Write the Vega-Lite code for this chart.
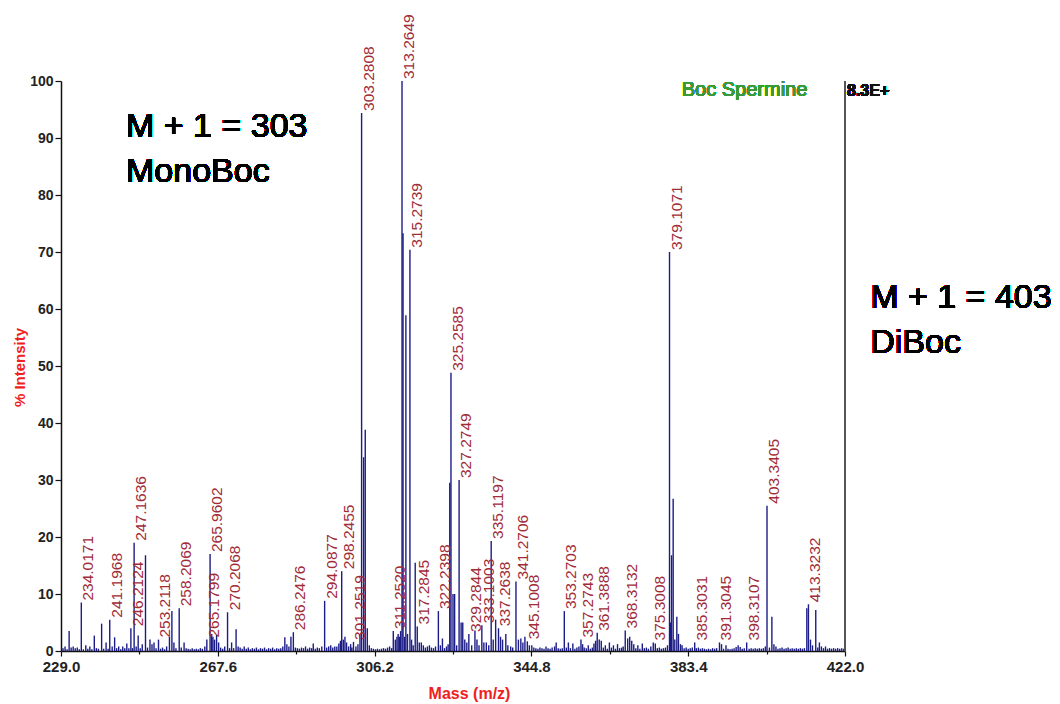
{
  "$schema": "https://vega.github.io/schema/vega-lite/v6.json",
  "width": 784,
  "height": 570,
  "autosize": {"type": "none"},
  "padding": {"left": 61, "top": 81, "right": 215, "bottom": 53},
  "background": "white",
  "config": {"view": {"stroke": null}, "font": "Liberation Sans"},
  "data": {"values": [
    {"mz": 229.5, "intensity": 0.5}, {"mz": 230.0, "intensity": 0.8}, {"mz": 230.5, "intensity": 0.3},
    {"mz": 231.0, "intensity": 3.5}, {"mz": 231.5, "intensity": 0.6}, {"mz": 232.0, "intensity": 0.8},
    {"mz": 232.5, "intensity": 0.5}, {"mz": 233.0, "intensity": 0.6}, {"mz": 233.5, "intensity": 0.3},
    {"mz": 234.0, "intensity": 8.5, "label": "234.0171"}, {"mz": 234.5, "intensity": 0.3},
    {"mz": 235.1, "intensity": 1.0}, {"mz": 235.6, "intensity": 0.4}, {"mz": 236.1, "intensity": 0.8},
    {"mz": 236.6, "intensity": 0.3}, {"mz": 237.2, "intensity": 2.7}, {"mz": 237.7, "intensity": 0.5},
    {"mz": 238.2, "intensity": 0.4}, {"mz": 239.0, "intensity": 4.8}, {"mz": 239.5, "intensity": 0.4},
    {"mz": 240.1, "intensity": 1.5}, {"mz": 240.6, "intensity": 0.4},
    {"mz": 241.0, "intensity": 5.5, "label": "241.1968"}, {"mz": 241.6, "intensity": 0.8},
    {"mz": 242.2, "intensity": 2.4}, {"mz": 242.7, "intensity": 0.5}, {"mz": 243.2, "intensity": 0.8},
    {"mz": 243.7, "intensity": 0.3}, {"mz": 244.2, "intensity": 0.8}, {"mz": 244.7, "intensity": 0.5},
    {"mz": 245.2, "intensity": 1.3}, {"mz": 245.7, "intensity": 0.5},
    {"mz": 246.2, "intensity": 4.0, "label": "246.2124"}, {"mz": 246.6, "intensity": 0.5},
    {"mz": 247.0, "intensity": 19.0, "label": "247.1636"}, {"mz": 247.5, "intensity": 0.8},
    {"mz": 248.0, "intensity": 2.7}, {"mz": 248.5, "intensity": 0.5}, {"mz": 249.0, "intensity": 1.2},
    {"mz": 249.8, "intensity": 16.8}, {"mz": 250.3, "intensity": 0.6}, {"mz": 250.9, "intensity": 2.0},
    {"mz": 251.4, "intensity": 1.2}, {"mz": 251.9, "intensity": 1.5}, {"mz": 252.4, "intensity": 0.5},
    {"mz": 253.0, "intensity": 2.0, "label": "253.2118"}, {"mz": 253.5, "intensity": 0.4},
    {"mz": 254.0, "intensity": 0.6}, {"mz": 254.5, "intensity": 0.3}, {"mz": 255.0, "intensity": 0.8},
    {"mz": 255.7, "intensity": 2.5}, {"mz": 256.3, "intensity": 7.0}, {"mz": 256.8, "intensity": 1.5},
    {"mz": 257.3, "intensity": 0.5}, {"mz": 258.1, "intensity": 7.5, "label": "258.2069"},
    {"mz": 258.6, "intensity": 0.6}, {"mz": 259.3, "intensity": 1.5}, {"mz": 259.8, "intensity": 0.5},
    {"mz": 260.3, "intensity": 0.4}, {"mz": 260.8, "intensity": 0.3}, {"mz": 261.3, "intensity": 0.5},
    {"mz": 261.8, "intensity": 0.3}, {"mz": 262.3, "intensity": 0.4}, {"mz": 262.8, "intensity": 0.3},
    {"mz": 263.3, "intensity": 0.5}, {"mz": 263.8, "intensity": 0.4}, {"mz": 264.4, "intensity": 0.8},
    {"mz": 264.9, "intensity": 2.0, "label": "265.1799"},
    {"mz": 265.7, "intensity": 17.0, "label": "265.9602"}, {"mz": 266.1, "intensity": 3.0},
    {"mz": 266.4, "intensity": 2.5}, {"mz": 266.8, "intensity": 2.0}, {"mz": 267.3, "intensity": 2.8},
    {"mz": 267.8, "intensity": 1.5}, {"mz": 268.3, "intensity": 0.6}, {"mz": 268.8, "intensity": 0.4},
    {"mz": 269.3, "intensity": 0.8}, {"mz": 270.0, "intensity": 6.8, "label": "270.2068"},
    {"mz": 270.5, "intensity": 0.5}, {"mz": 271.0, "intensity": 1.5}, {"mz": 271.5, "intensity": 0.5},
    {"mz": 272.1, "intensity": 3.8}, {"mz": 272.6, "intensity": 0.8}, {"mz": 273.1, "intensity": 0.6},
    {"mz": 273.6, "intensity": 0.4}, {"mz": 274.1, "intensity": 0.8}, {"mz": 274.6, "intensity": 0.4},
    {"mz": 275.1, "intensity": 0.6}, {"mz": 275.6, "intensity": 0.3}, {"mz": 276.1, "intensity": 0.5},
    {"mz": 276.6, "intensity": 0.4}, {"mz": 277.1, "intensity": 0.6}, {"mz": 277.6, "intensity": 0.3},
    {"mz": 278.1, "intensity": 0.5}, {"mz": 278.6, "intensity": 0.4}, {"mz": 279.1, "intensity": 0.6},
    {"mz": 279.6, "intensity": 0.3}, {"mz": 280.1, "intensity": 0.5}, {"mz": 280.6, "intensity": 0.4},
    {"mz": 281.1, "intensity": 0.6}, {"mz": 281.6, "intensity": 0.3}, {"mz": 282.1, "intensity": 0.5},
    {"mz": 282.6, "intensity": 0.4}, {"mz": 283.1, "intensity": 0.5}, {"mz": 283.6, "intensity": 0.8},
    {"mz": 284.1, "intensity": 2.4}, {"mz": 284.6, "intensity": 1.2}, {"mz": 285.1, "intensity": 0.8},
    {"mz": 285.6, "intensity": 2.5}, {"mz": 286.2, "intensity": 3.3, "label": "286.2476"},
    {"mz": 286.7, "intensity": 0.6}, {"mz": 287.2, "intensity": 0.5}, {"mz": 287.7, "intensity": 0.4},
    {"mz": 288.2, "intensity": 0.6}, {"mz": 288.7, "intensity": 0.5}, {"mz": 289.2, "intensity": 0.8},
    {"mz": 289.7, "intensity": 0.4}, {"mz": 290.2, "intensity": 0.6}, {"mz": 290.7, "intensity": 0.5},
    {"mz": 291.1, "intensity": 1.3}, {"mz": 291.6, "intensity": 0.4}, {"mz": 292.1, "intensity": 0.6},
    {"mz": 292.6, "intensity": 0.5}, {"mz": 293.2, "intensity": 0.8},
    {"mz": 293.9, "intensity": 8.8, "label": "294.0877"}, {"mz": 294.4, "intensity": 0.6},
    {"mz": 294.9, "intensity": 0.8}, {"mz": 295.4, "intensity": 1.0}, {"mz": 295.9, "intensity": 0.6},
    {"mz": 296.4, "intensity": 0.8}, {"mz": 296.9, "intensity": 0.8}, {"mz": 297.4, "intensity": 1.3},
    {"mz": 297.8, "intensity": 1.8}, {"mz": 298.1, "intensity": 14.0, "label": "298.2455"},
    {"mz": 298.5, "intensity": 2.0}, {"mz": 298.9, "intensity": 2.5}, {"mz": 299.3, "intensity": 1.5},
    {"mz": 299.8, "intensity": 0.8}, {"mz": 300.3, "intensity": 1.2}, {"mz": 300.6, "intensity": 0.6},
    {"mz": 301.0, "intensity": 1.6, "label": "301.2519"}, {"mz": 301.6, "intensity": 0.8},
    {"mz": 302.1, "intensity": 1.2}, {"mz": 302.6, "intensity": 3.0},
    {"mz": 303.0, "intensity": 94.4, "label": "303.2808"}, {"mz": 303.5, "intensity": 34.0},
    {"mz": 303.9, "intensity": 38.8}, {"mz": 304.4, "intensity": 4.0}, {"mz": 304.9, "intensity": 1.0},
    {"mz": 305.4, "intensity": 0.5}, {"mz": 305.9, "intensity": 0.4}, {"mz": 306.4, "intensity": 0.3},
    {"mz": 306.9, "intensity": 0.4}, {"mz": 307.4, "intensity": 0.3}, {"mz": 307.9, "intensity": 0.4},
    {"mz": 308.4, "intensity": 0.5}, {"mz": 308.9, "intensity": 0.4}, {"mz": 309.4, "intensity": 0.6},
    {"mz": 309.9, "intensity": 0.8}, {"mz": 310.4, "intensity": 0.5},
    {"mz": 310.8, "intensity": 3.5, "label": "311.2520"}, {"mz": 311.3, "intensity": 2.0},
    {"mz": 311.7, "intensity": 2.5}, {"mz": 312.0, "intensity": 3.0}, {"mz": 312.3, "intensity": 2.5},
    {"mz": 312.6, "intensity": 3.5}, {"mz": 312.95, "intensity": 100, "label": "313.2649"},
    {"mz": 313.2, "intensity": 73.3}, {"mz": 313.6, "intensity": 2.5}, {"mz": 313.9, "intensity": 58.9},
    {"mz": 314.3, "intensity": 3.0}, {"mz": 314.9, "intensity": 70.4, "label": "315.2739"},
    {"mz": 315.3, "intensity": 2.0}, {"mz": 315.7, "intensity": 1.0}, {"mz": 316.2, "intensity": 15.5},
    {"mz": 316.7, "intensity": 4.3, "label": "317.2845"}, {"mz": 317.2, "intensity": 1.5},
    {"mz": 317.7, "intensity": 1.5}, {"mz": 318.2, "intensity": 1.0}, {"mz": 318.7, "intensity": 0.6},
    {"mz": 319.2, "intensity": 0.8}, {"mz": 319.7, "intensity": 1.0}, {"mz": 320.2, "intensity": 0.6},
    {"mz": 320.7, "intensity": 0.5}, {"mz": 321.2, "intensity": 0.8},
    {"mz": 321.9, "intensity": 7.0, "label": "322.2398"}, {"mz": 322.4, "intensity": 1.0},
    {"mz": 322.9, "intensity": 2.2}, {"mz": 323.4, "intensity": 0.5}, {"mz": 323.9, "intensity": 0.8},
    {"mz": 324.3, "intensity": 1.2}, {"mz": 324.7, "intensity": 29.5},
    {"mz": 325.0, "intensity": 48.8, "label": "325.2585"}, {"mz": 325.5, "intensity": 10.0},
    {"mz": 325.9, "intensity": 10.0}, {"mz": 326.4, "intensity": 1.0},
    {"mz": 327.0, "intensity": 30.0, "label": "327.2749"}, {"mz": 327.5, "intensity": 5.0},
    {"mz": 327.9, "intensity": 5.0}, {"mz": 328.4, "intensity": 2.0}, {"mz": 328.9, "intensity": 1.5},
    {"mz": 329.4, "intensity": 3.0, "label": "329.2844"}, {"mz": 330.1, "intensity": 1.0},
    {"mz": 330.9, "intensity": 3.6}, {"mz": 331.4, "intensity": 2.0}, {"mz": 331.9, "intensity": 1.0},
    {"mz": 332.6, "intensity": 4.5, "label": "333.1003"}, {"mz": 333.1, "intensity": 1.5},
    {"mz": 333.7, "intensity": 1.5}, {"mz": 334.3, "intensity": 1.0},
    {"mz": 334.9, "intensity": 19.3, "label": "335.1197"}, {"mz": 335.4, "intensity": 2.0},
    {"mz": 336.0, "intensity": 5.5}, {"mz": 336.7, "intensity": 4.0, "label": "337.2638"},
    {"mz": 337.2, "intensity": 2.5}, {"mz": 337.7, "intensity": 2.0}, {"mz": 338.5, "intensity": 3.0},
    {"mz": 339.0, "intensity": 1.0}, {"mz": 339.7, "intensity": 0.8}, {"mz": 340.2, "intensity": 0.6},
    {"mz": 341.0, "intensity": 12.2, "label": "341.2706"}, {"mz": 341.6, "intensity": 2.0},
    {"mz": 342.2, "intensity": 2.2}, {"mz": 342.7, "intensity": 1.5}, {"mz": 343.2, "intensity": 2.5},
    {"mz": 343.8, "intensity": 1.7, "label": "345.1008"}, {"mz": 344.3, "intensity": 1.0},
    {"mz": 344.9, "intensity": 1.0}, {"mz": 345.4, "intensity": 0.6}, {"mz": 345.9, "intensity": 0.5},
    {"mz": 346.4, "intensity": 0.4}, {"mz": 346.9, "intensity": 0.6}, {"mz": 347.4, "intensity": 0.5},
    {"mz": 347.9, "intensity": 0.4}, {"mz": 348.4, "intensity": 0.8}, {"mz": 348.9, "intensity": 0.5},
    {"mz": 349.4, "intensity": 0.4}, {"mz": 349.9, "intensity": 0.6}, {"mz": 350.5, "intensity": 0.8},
    {"mz": 350.9, "intensity": 1.5}, {"mz": 351.4, "intensity": 0.5}, {"mz": 351.9, "intensity": 0.4},
    {"mz": 352.4, "intensity": 0.5}, {"mz": 352.9, "intensity": 7.0, "label": "353.2703"},
    {"mz": 353.4, "intensity": 0.6}, {"mz": 353.9, "intensity": 1.5}, {"mz": 354.4, "intensity": 0.5},
    {"mz": 355.0, "intensity": 1.3}, {"mz": 355.5, "intensity": 0.4}, {"mz": 356.0, "intensity": 0.6},
    {"mz": 356.5, "intensity": 0.8}, {"mz": 357.0, "intensity": 2.0, "label": "357.2743"},
    {"mz": 357.4, "intensity": 1.2}, {"mz": 357.8, "intensity": 0.6}, {"mz": 358.3, "intensity": 0.5},
    {"mz": 358.8, "intensity": 1.0}, {"mz": 359.3, "intensity": 0.4}, {"mz": 359.8, "intensity": 0.6},
    {"mz": 360.2, "intensity": 1.3}, {"mz": 360.6, "intensity": 1.8},
    {"mz": 361.0, "intensity": 3.2, "label": "361.3888"}, {"mz": 361.5, "intensity": 2.0},
    {"mz": 362.0, "intensity": 1.8}, {"mz": 362.5, "intensity": 0.6}, {"mz": 363.0, "intensity": 1.0},
    {"mz": 363.5, "intensity": 0.4}, {"mz": 364.0, "intensity": 1.5}, {"mz": 364.5, "intensity": 0.6},
    {"mz": 365.0, "intensity": 1.0}, {"mz": 365.5, "intensity": 0.4}, {"mz": 366.0, "intensity": 1.2},
    {"mz": 366.5, "intensity": 0.5}, {"mz": 367.0, "intensity": 0.6}, {"mz": 367.4, "intensity": 0.8},
    {"mz": 367.9, "intensity": 3.6, "label": "368.3132"}, {"mz": 368.5, "intensity": 2.2},
    {"mz": 369.0, "intensity": 2.5}, {"mz": 369.5, "intensity": 1.8}, {"mz": 370.0, "intensity": 1.2},
    {"mz": 370.5, "intensity": 0.5}, {"mz": 371.0, "intensity": 1.0}, {"mz": 371.5, "intensity": 0.4},
    {"mz": 372.1, "intensity": 1.3}, {"mz": 372.6, "intensity": 0.5}, {"mz": 373.1, "intensity": 0.6},
    {"mz": 373.6, "intensity": 0.4}, {"mz": 374.2, "intensity": 0.8},
    {"mz": 374.8, "intensity": 1.5, "label": "375.3008"}, {"mz": 375.3, "intensity": 1.3},
    {"mz": 375.8, "intensity": 0.5}, {"mz": 376.3, "intensity": 0.6}, {"mz": 376.8, "intensity": 0.4},
    {"mz": 377.3, "intensity": 0.5}, {"mz": 377.8, "intensity": 0.6}, {"mz": 378.3, "intensity": 1.0},
    {"mz": 378.8, "intensity": 70.0, "label": "379.1071"}, {"mz": 379.05, "intensity": 5.0},
    {"mz": 379.3, "intensity": 16.8}, {"mz": 379.7, "intensity": 26.7}, {"mz": 380.1, "intensity": 2.0},
    {"mz": 380.6, "intensity": 6.0}, {"mz": 381.0, "intensity": 3.0}, {"mz": 381.5, "intensity": 1.2},
    {"mz": 381.9, "intensity": 1.0}, {"mz": 382.4, "intensity": 0.5}, {"mz": 382.9, "intensity": 0.6},
    {"mz": 383.4, "intensity": 0.4}, {"mz": 383.9, "intensity": 0.5}, {"mz": 384.4, "intensity": 0.6},
    {"mz": 385.0, "intensity": 1.5, "label": "385.3031"}, {"mz": 385.4, "intensity": 0.5},
    {"mz": 385.9, "intensity": 0.6}, {"mz": 386.4, "intensity": 0.4}, {"mz": 386.9, "intensity": 0.5},
    {"mz": 387.4, "intensity": 0.4}, {"mz": 387.9, "intensity": 0.3}, {"mz": 388.4, "intensity": 0.4},
    {"mz": 388.9, "intensity": 0.3}, {"mz": 389.4, "intensity": 0.5}, {"mz": 389.9, "intensity": 0.4},
    {"mz": 390.4, "intensity": 0.5}, {"mz": 391.1, "intensity": 1.5, "label": "391.3045"},
    {"mz": 391.6, "intensity": 1.2}, {"mz": 392.1, "intensity": 0.4}, {"mz": 392.7, "intensity": 1.0},
    {"mz": 393.2, "intensity": 0.4}, {"mz": 393.7, "intensity": 0.3}, {"mz": 394.2, "intensity": 0.4},
    {"mz": 394.7, "intensity": 0.5}, {"mz": 395.2, "intensity": 0.7}, {"mz": 395.7, "intensity": 1.0},
    {"mz": 396.2, "intensity": 0.7}, {"mz": 396.7, "intensity": 0.4}, {"mz": 397.2, "intensity": 0.5},
    {"mz": 397.8, "intensity": 1.5, "label": "398.3107"}, {"mz": 398.4, "intensity": 0.4},
    {"mz": 398.9, "intensity": 0.5}, {"mz": 399.4, "intensity": 0.4}, {"mz": 399.9, "intensity": 0.5},
    {"mz": 400.4, "intensity": 0.4}, {"mz": 400.9, "intensity": 0.5}, {"mz": 401.4, "intensity": 0.4},
    {"mz": 401.9, "intensity": 0.5}, {"mz": 402.4, "intensity": 0.8},
    {"mz": 402.8, "intensity": 25.5, "label": "403.3405"}, {"mz": 403.4, "intensity": 0.6},
    {"mz": 404.0, "intensity": 6.0}, {"mz": 404.5, "intensity": 1.2}, {"mz": 405.0, "intensity": 0.8},
    {"mz": 405.5, "intensity": 0.4}, {"mz": 406.0, "intensity": 0.5}, {"mz": 406.5, "intensity": 0.6},
    {"mz": 407.0, "intensity": 0.4}, {"mz": 407.5, "intensity": 0.5}, {"mz": 408.0, "intensity": 0.6},
    {"mz": 408.5, "intensity": 0.4}, {"mz": 409.0, "intensity": 0.5}, {"mz": 409.5, "intensity": 0.4},
    {"mz": 410.0, "intensity": 0.5}, {"mz": 410.5, "intensity": 0.4}, {"mz": 411.0, "intensity": 0.5},
    {"mz": 411.5, "intensity": 0.4}, {"mz": 412.0, "intensity": 0.5}, {"mz": 412.6, "intensity": 7.5},
    {"mz": 413.0, "intensity": 8.2, "label": "413.3232"}, {"mz": 413.5, "intensity": 2.0},
    {"mz": 414.0, "intensity": 1.0}, {"mz": 414.8, "intensity": 7.2}, {"mz": 415.3, "intensity": 0.6},
    {"mz": 415.7, "intensity": 1.5}, {"mz": 416.2, "intensity": 0.8}, {"mz": 416.7, "intensity": 0.5},
    {"mz": 417.2, "intensity": 0.8}, {"mz": 417.7, "intensity": 0.4}, {"mz": 418.2, "intensity": 0.5},
    {"mz": 418.7, "intensity": 0.4}, {"mz": 419.2, "intensity": 0.5}, {"mz": 419.7, "intensity": 0.4},
    {"mz": 420.2, "intensity": 0.5}, {"mz": 420.7, "intensity": 0.4}, {"mz": 421.2, "intensity": 0.5},
    {"mz": 421.7, "intensity": 0.4}
  ]},
  "layer": [
    {
      "mark": {"type": "rule", "color": "#1c1c86", "strokeWidth": 1.4},
      "encoding": {
        "x": {
          "field": "mz", "type": "quantitative",
          "scale": {"domain": [229, 422], "nice": false, "zero": false},
          "axis": {
            "values": [229, 248.3, 267.6, 286.9, 306.2, 325.5, 344.8, 364.1, 383.4, 402.7, 422],
            "labelExpr": "abs((datum.value - 229) / 38.6 - round((datum.value - 229) / 38.6)) < 0.01 ? format(datum.value, '.1f') : ''",
            "tickSize": {"condition": {"test": "abs((datum.value - 229) / 38.6 - round((datum.value - 229) / 38.6)) < 0.01", "value": 5}, "value": 3},
            "labelFlush": false, "labelOverlap": false,
            "labelFont": "Liberation Sans", "labelFontWeight": "bold", "labelFontSize": 15, "labelColor": "#222222",
            "labelPadding": 3,
            "domainColor": "#111111", "domainWidth": 1.5, "tickColor": "#111111", "tickWidth": 1.2,
            "grid": false,
            "title": "Mass (m/z)", "titleColor": "#f02020", "titleFontSize": 16, "titleFontWeight": "bold",
            "titleX": 408, "titleY": 42, "titleBaseline": "middle", "titleAlign": "center"
          }
        },
        "y": {
          "field": "intensity", "type": "quantitative",
          "scale": {"domain": [0, 100], "nice": false},
          "axis": {
            "values": [0, 5, 10, 15, 20, 25, 30, 35, 40, 45, 50, 55, 60, 65, 70, 75, 80, 85, 90, 95, 100],
            "labelExpr": "datum.value % 10 === 0 ? datum.label : ''",
            "tickSize": {"condition": {"test": "datum.value % 10 === 0", "value": 6}, "value": 3},
            "labelFlush": false, "labelOverlap": false,
            "labelFont": "Liberation Sans", "labelFontWeight": "bold", "labelFontSize": 14, "labelColor": "#222222",
            "labelPadding": 2,
            "domainColor": "#111111", "domainWidth": 1.5, "tickColor": "#111111", "tickWidth": 1.2,
            "grid": false,
            "title": "% Intensity", "titleColor": "#f02020", "titleFontSize": 15, "titleFontWeight": "bold",
            "titleX": -42, "titleY": 286, "titleAngle": 270, "titleBaseline": "middle", "titleAlign": "center"
          }
        },
        "y2": {"datum": 0}
      }
    },
    {
      "transform": [{"filter": "datum.label"}],
      "mark": {"type": "text", "angle": 270, "align": "left", "baseline": "top", "dx": 2, "fontSize": 15.5, "font": "Liberation Sans", "color": "#a02c38"},
      "encoding": {
        "x": {"field": "mz", "type": "quantitative"},
        "y": {"field": "intensity", "type": "quantitative"},
        "text": {"field": "label"}
      }
    },
    {
      "mark": {"type": "rule", "color": "#555555", "strokeWidth": 2},
      "encoding": {"x": {"datum": 422}, "y": {"datum": 0}, "y2": {"datum": 100}}
    },
    {
      "mark": {"type": "text", "text": ["M + 1 = 303", "MonoBoc"], "align": "left", "baseline": "alphabetic", "fontSize": 34, "lineHeight": 45, "font": "Liberation Sans", "color": "#000000"},
      "encoding": {"x": {"datum": 245.0}, "y": {"datum": 90.2}}
    },
    {
      "mark": {"type": "text", "text": ["M + 1 = 403", "DiBoc"], "align": "left", "baseline": "alphabetic", "fontSize": 34, "lineHeight": 45, "font": "Liberation Sans", "color": "#000000"},
      "encoding": {"x": {"datum": 428.2}, "y": {"datum": 60.1}}
    },
    {
      "mark": {"type": "text", "text": "Boc Spermine", "align": "left", "baseline": "alphabetic", "fontSize": 20, "font": "Liberation Sans", "color": "#3a9a3a"},
      "encoding": {"x": {"datum": 381.8}, "y": {"datum": 97.4}}
    },
    {
      "mark": {"type": "text", "text": "8.3E+", "align": "left", "baseline": "alphabetic", "fontSize": 16, "fontWeight": "bold", "font": "Liberation Sans", "color": "#111111"},
      "encoding": {"x": {"datum": 422.5}, "y": {"datum": 97.4}}
    }
  ]
}
